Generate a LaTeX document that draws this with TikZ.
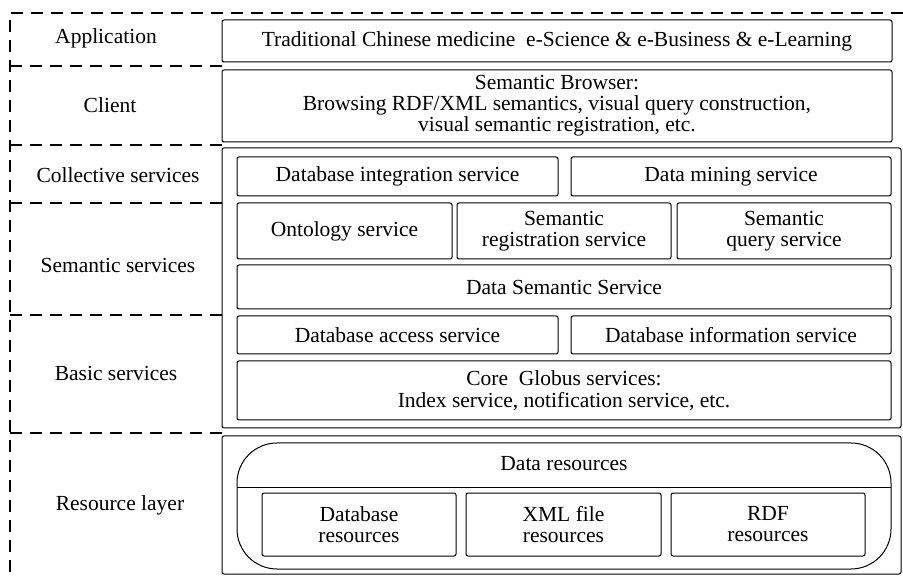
\documentclass[tikz,border=0pt]{standalone}
\usepackage{fontspec}
\setmainfont{Liberation Serif}
\begin{document}
\begin{tikzpicture}[x=1pt,y=-1pt,
  txt/.style={font=\fontsize{21.5}{21}\selectfont, align=center, inner sep=0pt},
  box/.style={txt, draw, line width=1pt, rounded corners=2pt},
  outer/.style={draw, line width=1pt, rounded corners=2pt, inner sep=0pt},
  sep/.style={dashed, dash pattern=on 12pt off 8pt, line width=1.3pt},
  lab/.style={txt}]
\useasboundingbox (0,0) rectangle (903,577);
% dashed layer frame
\coordinate (tl) at (10,13);
\coordinate (tr) at (903,13);
\coordinate (bl) at (10,577);
\draw[sep] (tr) -- (tl) -- (bl);
\foreach \yy/\nm in {66/a,145/b,203/c,315/d,433/e}{
  \coordinate (s\nm l) at (10,\yy);
  \coordinate (s\nm r) at (222,\yy);
  \draw[sep] (s\nm l) -- (s\nm r);
}
% left labels
\node[lab] (lapp) at (106,38) {Application};
\node[lab] (lcli) at (110,105) {Client};
\node[lab] (lcol) at (118,175) {Collective services};
\node[lab] (lsem) at (118,265) {Semantic services};
\node[lab] (lbas) at (116,373) {Basic services};
\node[lab] (lres) at (120,505) {Resource layer};
% application & client
\node[box, minimum width=670pt, minimum height=42pt] (app) at (557,41)
  {Traditional Chinese medicine\ \ e-Science \& e-Business \& e-Learning};
\node[box, minimum width=670pt, minimum height=72pt] (cli) at (557,106)
  {Semantic Browser:\\Browsing RDF/XML semantics, visual query construction,\\visual semantic registration, etc.};
% services container
\node[outer, minimum width=679pt, minimum height=280pt] (svc) at (561.5,288) {};
\node[box, minimum width=321pt, minimum height=39pt] (dbint) at (397.5,176.5) {Database integration service};
\node[box, minimum width=320pt, minimum height=39pt] (dmin) at (731,176.5) {Data mining service};
\node[box, minimum width=215pt, minimum height=56pt] (onto) at (344.5,231) {Ontology service};
\node[box, minimum width=214pt, minimum height=56pt] (sreg) at (564,231) {Semantic\\registration service};
\node[box, minimum width=214pt, minimum height=56pt] (squ) at (784,231) {Semantic\\query service};
\node[box, minimum width=654pt, minimum height=44pt] (dss) at (564,287) {Data Semantic Service};
\node[box, minimum width=321pt, minimum height=38pt] (dbacc) at (397.5,335) {Database access service};
\node[box, minimum width=320pt, minimum height=38pt] (dbinf) at (731,335) {Database information service};
\node[box, minimum width=654pt, minimum height=59pt] (core) at (564,390.5)
  {Core\ \ Globus services:\\[1pt]Index service, notification service, etc.};
% resource container
\node[outer, minimum width=679pt, minimum height=138pt] (res) at (561.5,505) {};
\node[draw, line width=1pt, rounded corners=40pt, minimum width=654pt, minimum height=126pt, inner sep=0pt] (dres) at (564,506) {};
\coordinate (dl) at (237,487);
\coordinate (dr) at (891,487);
\draw[line width=1pt] (dl) -- (dr);
\node[lab] (dtxt) at (564,464) {Data resources};
\node[box, minimum width=194pt, minimum height=63pt] (dbres) at (359,524.5) {Database\\resources};
\node[box, minimum width=195pt, minimum height=63pt] (xmlres) at (563.5,524.5) {XML file\\resources};
\node[box, minimum width=194pt, minimum height=63pt] (rdfres) at (768,524.5) {RDF\\resources};
\end{tikzpicture}
\end{document}
